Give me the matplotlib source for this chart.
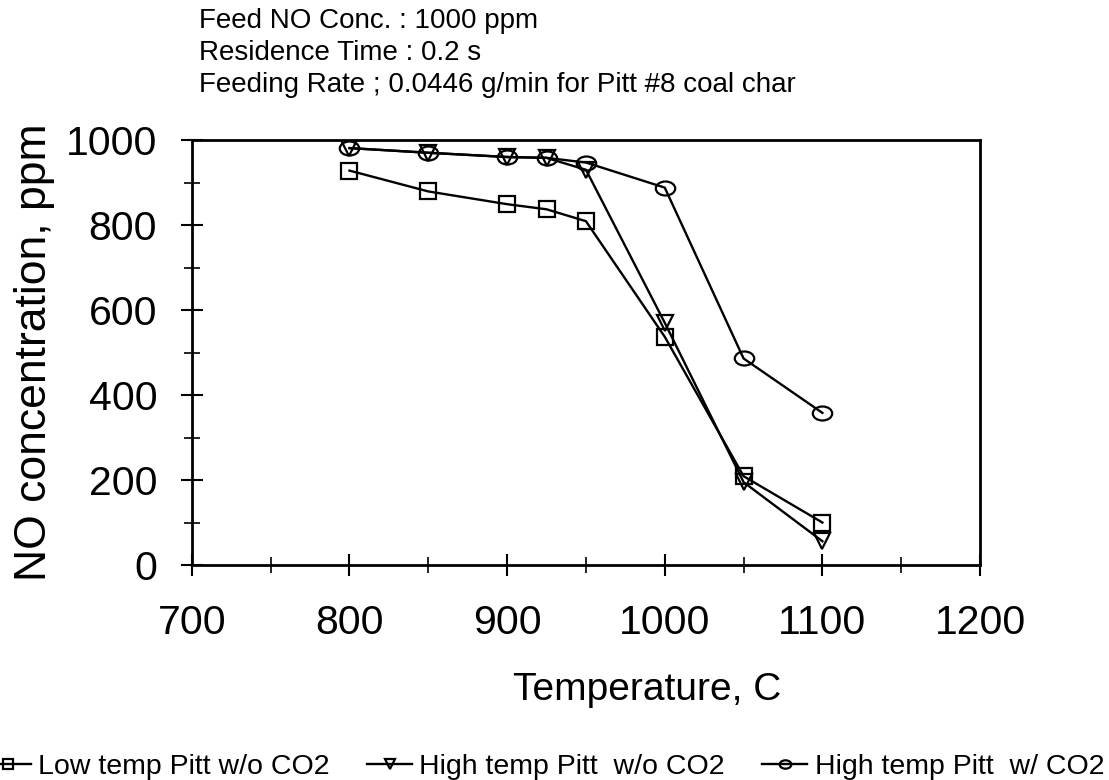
import matplotlib
matplotlib.use('Agg')
import matplotlib.pyplot as plt
from matplotlib.path import Path
from matplotlib.transforms import Affine2D
from matplotlib.ticker import MultipleLocator

temp = [800, 850, 900, 925, 950, 1000, 1050, 1100]
low_wo = [928, 879, 849, 837, 809, 537, 209, 100]
high_wo = [981, 970, 960, 958, 930, 570, 195, 56]
high_w = [981, 970, 960, 958, 947, 888, 486, 358]

labels = ['Low temp Pitt w/o CO2', 'High temp Pitt  w/o CO2', 'High temp Pitt  w/ CO2']
info = ['Feed NO Conc. : 1000 ppm',
        'Residence Time : 0.2 s',
        'Feeding Rate ; 0.0446 g/min for Pitt #8 coal char']

plt.rcParams['font.family'] = ['Liberation Sans', 'DejaVu Sans']

# flattened circle, like the scanned markers
ellipse = Path.unit_circle().transformed(Affine2D().scale(1.0, 0.72))

fig = plt.figure(figsize=(11.09, 7.8), dpi=100)
ax = fig.add_axes([0.173, 0.2756, 0.7107, 0.5449])

style = dict(color='black', lw=1.7, mfc='none', mew=1.6)
ax.plot(temp, low_wo, marker='s', ms=11, label=labels[0], **style)
ax.plot(temp, high_wo, marker='v', ms=12, label=labels[1], **style)
ax.plot(temp, high_w, marker=ellipse, ms=14, label=labels[2], **style)

ax.set_xlim(700, 1200)
ax.set_ylim(0, 1000)
ax.xaxis.set_major_locator(MultipleLocator(100))
ax.xaxis.set_minor_locator(MultipleLocator(50))
ax.yaxis.set_major_locator(MultipleLocator(200))
ax.yaxis.set_minor_locator(MultipleLocator(100))
ax.tick_params(which='major', direction='inout', length=16, width=1.5, labelsize=29.5)
ax.tick_params(axis='x', which='major', pad=20)
ax.tick_params(axis='y', which='major', pad=17)
ax.tick_params(which='minor', direction='inout', length=12, width=1.2)
for s in ax.spines.values():
    s.set_linewidth(2)

ax.set_xlabel('Temperature, C', fontsize=28, va='center')
ax.xaxis.set_label_coords(0.577, -0.294)
ax.set_ylabel('NO concentration, ppm', fontsize=32, va='center')
ax.yaxis.set_label_coords(-0.2, 0.5)

for i, line in enumerate(info):
    fig.text(0.179, 0.973 - 0.041 * i, line, fontsize=20, va='center', ha='left')

fig.legend(loc='lower left', bbox_to_anchor=(-0.031, -0.026), ncol=3, frameon=False,
           fontsize=20.5, handlelength=1.6, handletextpad=0.25, columnspacing=1.3,
           markerscale=0.6, borderpad=0.2)

fig.savefig('out.png', dpi=100)
